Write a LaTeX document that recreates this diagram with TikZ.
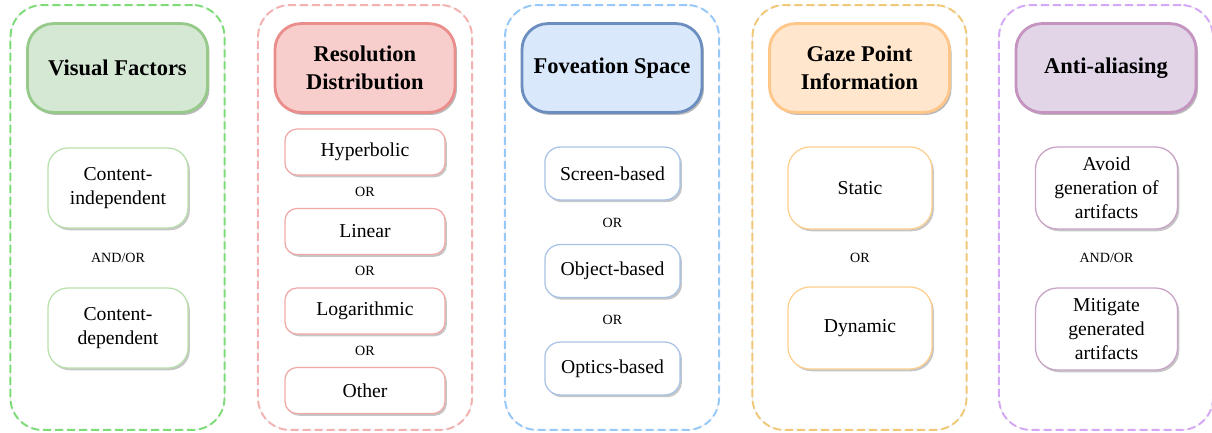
\documentclass[tikz,border=0pt]{standalone}
\usepackage{fontspec}
\setmainfont{LiberationSerif}[Extension=.ttf, UprightFont=*-Regular, BoldFont=*-Bold,
    ItalicFont=*-Italic, BoldItalicFont=*-BoldItalic]
\usetikzlibrary{shadows}

\definecolor{frame1}{HTML}{7EDC78}
\definecolor{head1}{HTML}{97C98A}
\definecolor{fill1}{HTML}{D5E8D4}
\definecolor{item1}{HTML}{B9E0AC}
\definecolor{frame2}{HTML}{F3B2B0}
\definecolor{head2}{HTML}{EA8E8C}
\definecolor{fill2}{HTML}{F8CECC}
\definecolor{item2}{HTML}{F0A9A6}
\definecolor{frame3}{HTML}{96C8F8}
\definecolor{head3}{HTML}{6C8EBF}
\definecolor{fill3}{HTML}{DAE8FC}
\definecolor{item3}{HTML}{A9C4E6}
\definecolor{frame4}{HTML}{F0C878}
\definecolor{head4}{HTML}{FFC68A}
\definecolor{fill4}{HTML}{FFE6CC}
\definecolor{item4}{HTML}{FFCF8E}
\definecolor{frame5}{HTML}{D4A8F4}
\definecolor{head5}{HTML}{C493C0}
\definecolor{fill5}{HTML}{E1D5E7}
\definecolor{item5}{HTML}{C9A3C6}

\tikzset{
    frame/.style={rectangle, rounded corners=0.8cm, line width=1.4pt,
        dash pattern=on 2mm off 1mm, minimum width=5.35cm, minimum height=10.62cm,
        preaction={draw=black!10, solid, line width=0.4pt}},
    headbox/.style={rectangle, rounded corners=0.65cm, line width=2pt, align=center,
        minimum width=4.5cm, minimum height=2.22cm,
        font=\fontsize{16}{19.5}\selectfont\bfseries,
        drop shadow={shadow xshift=1.4pt, shadow yshift=-1.8pt, opacity=0.5, fill=black!55}},
    itembox/.style={rectangle, line width=0.9pt, align=center, fill=white,
        font=\fontsize{14}{17}\selectfont,
        drop shadow={shadow xshift=1.3pt, shadow yshift=-1.6pt, opacity=0.45, fill=black!50}},
    conj/.style={font=\fontsize{10}{12}\selectfont}
}

\begin{document}
\begin{tikzpicture}[x=0.025cm, y=-0.025cm]
    \useasboundingbox (0,0) rectangle (1212,433);
    \foreach \i/\cx/\txt in {1/117.5/{Visual Factors}, 2/365/{Resolution\\Distribution},
            3/612/{Foveation Space}, 4/859.5/{Gaze Point\\Information}, 5/1106/{Anti-aliasing}} {
        \node[frame, draw=frame\i] (frame\i) at (\cx, 217.5) {};
        \node[headbox, draw=head\i, fill=fill\i] (head\i) at (\cx, 68) {\txt};
    }
    % visual factors
    \foreach \j/\y/\txt in {1/188/{Content-\\independent}, 2/328/{Content-\\dependent}} {
        \node[itembox, draw=item1, rounded corners=0.5cm, minimum width=3.5cm, minimum height=2cm] (vf\j) at (118, \y) {\txt};
    }
    \node[conj] (vfor) at (118, 258) {AND/OR};
    % resolution distribution
    \foreach \j/\y/\txt in {1/152/Hyperbolic, 2/231.5/Linear, 3/311/Logarithmic, 4/390.5/Other} {
        \node[itembox, draw=item2, rounded corners=0.3cm, minimum width=4cm, minimum height=1.15cm] (rd\j) at (365, \y) {\txt};
    }
    \foreach \j/\y in {1/192, 2/271, 3/351} {
        \node[conj] (rdor\j) at (365, \y) {OR};
    }
    % foveation space
    \foreach \j/\y/\txt in {1/173.5/Screen-based, 2/271/Object-based, 3/368.5/Optics-based} {
        \node[itembox, draw=item3, rounded corners=0.38cm, minimum width=3.38cm, minimum height=1.32cm] (fs\j) at (612.5, \y) {\txt};
    }
    \foreach \j/\y in {1/223, 2/320} {
        \node[conj] (fsor\j) at (612.5, \y) {OR};
    }
    % gaze point information
    \foreach \j/\y/\txt in {1/188/Static, 2/328/Dynamic} {
        \node[itembox, draw=item4, rounded corners=0.55cm, minimum width=3.6cm, minimum height=2.05cm] (gp\j) at (860, \y) {\txt};
    }
    \node[conj] (gpor) at (860, 258) {OR};
    % anti-aliasing
    \foreach \j/\y/\txt in {1/188/{Avoid\\generation of\\artifacts}, 2/329/{Mitigate\\generated\\artifacts}} {
        \node[itembox, draw=item5, rounded corners=0.55cm, minimum width=3.55cm, minimum height=2.05cm] (aa\j) at (1106.5, \y) {\txt};
    }
    \node[conj] (aaor) at (1106.5, 258) {AND/OR};
\end{tikzpicture}
\end{document}
